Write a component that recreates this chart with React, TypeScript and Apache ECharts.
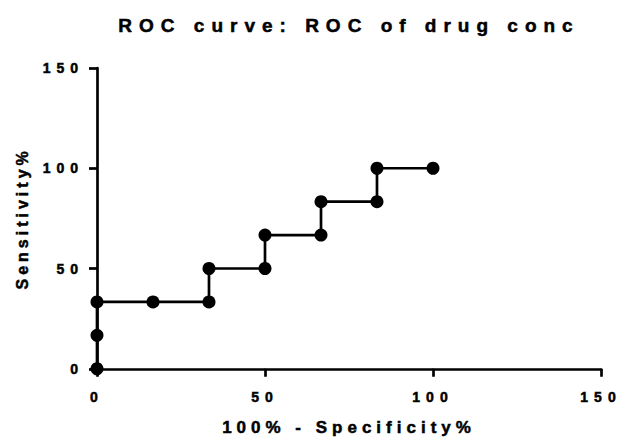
import React, { useEffect, useRef } from "react";
import * as echarts from "echarts";

const TITLE = "ROC curve: ROC of drug conc";
const X_NAME = "100% - Specificity%";
const Y_NAME = "Sensitivity%";

// 100% - Specificity% (x) and Sensitivity% (y) of each ROC point
const specificityComplement = [0, 0, 0, 16.67, 33.33, 33.33, 50, 50, 66.67, 66.67, 83.33, 83.33, 100];
const sensitivity = [0, 16.67, 33.33, 33.33, 33.33, 50, 50, 66.67, 66.67, 83.33, 83.33, 100, 100];

const AXIS_MIN = 0;
const AXIS_MAX = 150;
const AXIS_INTERVAL = 50;

const FONT = "'Liberation Sans', Arial, Helvetica, sans-serif";

export default function App() {
  const ref = useRef<HTMLDivElement | null>(null);

  useEffect(() => {
    const el = ref.current;
    if (!el) return;
    const chart = echarts.init(el, undefined, { renderer: "svg" });

    const points = specificityComplement.map((x, i) => [x, sensitivity[i]]);

    const heavy = { textBorderColor: "#000", textBorderWidth: 0.5 };

    const axisCommon = {
      type: "value" as const,
      min: AXIS_MIN,
      max: AXIS_MAX,
      interval: AXIS_INTERVAL,
      nameLocation: "middle" as const,
      nameTextStyle: {
        fontFamily: FONT,
        fontWeight: "bold" as const,
        color: "#000",
        ...heavy,
      },
      axisLine: { show: true, lineStyle: { color: "#000", width: 2.7 } },
      axisTick: { show: true, length: 8, lineStyle: { color: "#000", width: 2.7 } },
      splitLine: { show: false },
      axisLabel: {
        fontFamily: FONT,
        fontWeight: "bold" as const,
        fontSize: 14,
        color: "#000",
        ...heavy,
      },
    };

    chart.setOption({
      animation: false,
      backgroundColor: "#fff",
      title: {
        text: TITLE,
        left: 349,
        top: 16,
        padding: 0,
        textAlign: "center",
        textStyle: {
          fontFamily: FONT,
          fontWeight: "bold",
          fontSize: 19,
          color: "#000",
          ...heavy,
        },
      },
      grid: { left: 97, right: 21, top: 68, bottom: 68, containLabel: false },
      xAxis: {
        ...axisCommon,
        name: X_NAME,
        nameGap: 50,
        nameTextStyle: { ...axisCommon.nameTextStyle, fontSize: 17 },
        axisLabel: { ...axisCommon.axisLabel, margin: 21 },
      },
      yAxis: {
        ...axisCommon,
        name: Y_NAME,
        nameGap: 67,
        nameTextStyle: { ...axisCommon.nameTextStyle, fontSize: 16 },
        axisLabel: { ...axisCommon.axisLabel, margin: 13 },
      },
      series: [
        {
          type: "line",
          data: points,
          clip: false,
          symbol: "circle",
          symbolSize: 13,
          lineStyle: { color: "#000", width: 2.7 },
          itemStyle: { color: "#000" },
        },
      ],
    });

    const applySpacing = () => {
      el.querySelectorAll("text").forEach((t) => {
        const s = t.textContent || "";
        let ls = "6px";
        if (s === TITLE) ls = "7px";
        else if (s === X_NAME) ls = "5px";
        else if (s === Y_NAME) ls = "4px";
        (t as SVGTextElement).style.letterSpacing = ls;
      });
    };
    applySpacing();
    chart.on("finished", applySpacing);

    return () => {
      chart.dispose();
    };
  }, []);

  return (
    <div
      ref={ref}
      style={{ position: "fixed", left: 0, top: 0, width: 622, height: 441 }}
    />
  );
}
